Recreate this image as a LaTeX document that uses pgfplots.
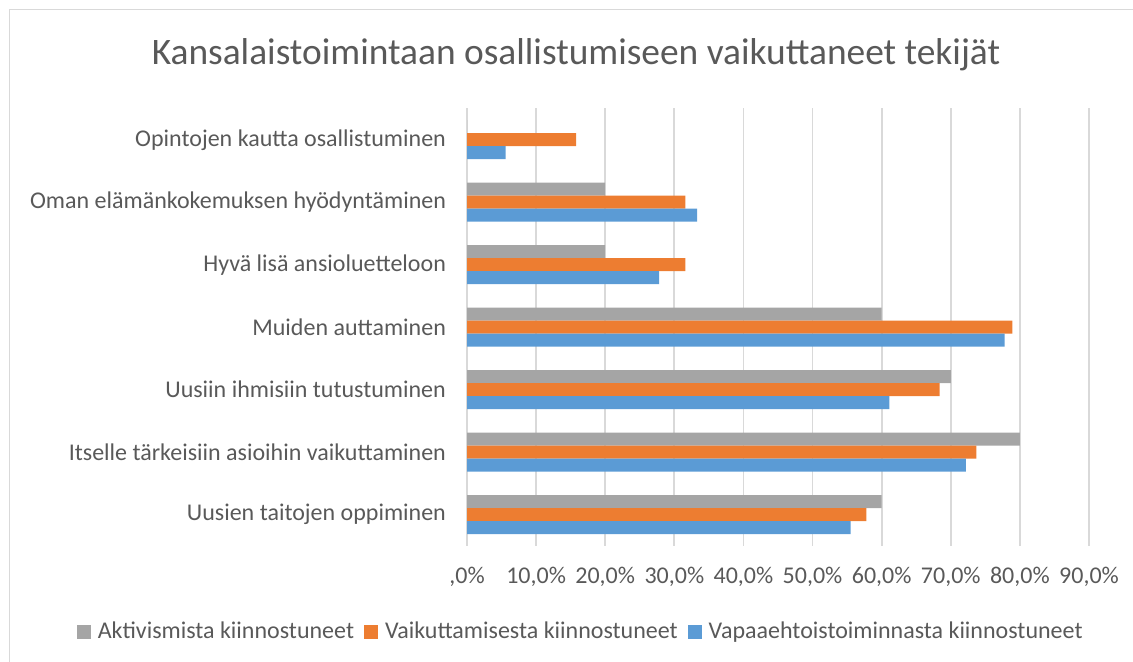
\documentclass[border=0pt]{standalone}
\usepackage{pgfplots}
\pgfplotsset{compat=1.18}
\usepackage{fontspec}
\setmainfont{Carlito}
\definecolor{cgray}{HTML}{A5A5A5}
\definecolor{corange}{HTML}{ED7D31}
\definecolor{cblue}{HTML}{5B9BD5}
\definecolor{cgrid}{HTML}{D9D9D9}
\definecolor{ctext}{HTML}{595959}
\begin{document}
\begin{tikzpicture}
\path[use as bounding box] (0pt,0pt) rectangle (566.5pt,331pt);
\draw[cgrid,line width=0.5pt] (4.5pt,-3pt) -- (4.5pt,326pt) -- (570pt,326pt);
\node[text=ctext,font=\fontsize{18.7}{22}\selectfont] at (288pt,303.5pt) {Kansalaistoimintaan osallistumiseen vaikuttaneet tekijät};
\begin{axis}[
  at={(233.5pt,58pt)}, anchor=south west,
  scale only axis,
  width=311pt, height=218.75pt,
  xmin=0, xmax=90,
  ymin=-0.5, ymax=6.5,
  xtick={0,10,...,90},
  xticklabels={{,0\%},{10,0\%},{20,0\%},{30,0\%},{40,0\%},{50,0\%},{60,0\%},{70,0\%},{80,0\%},{90,0\%}},
  ytick={0,...,6},
  yticklabels={Uusien taitojen oppiminen, Itselle tärkeisiin asioihin vaikuttaminen, Uusiin ihmisiin tutustuminen, Muiden auttaminen, Hyvä lisä ansioluetteloon, Oman elämänkokemuksen hyödyntäminen, Opintojen kautta osallistuminen},
  major tick length=0pt,
  xmajorgrids,
  grid style={cgrid,line width=0.9pt},
  axis line style={draw=none},
  tick label style={text=ctext,font=\fontsize{12}{14}\selectfont},
  xticklabel style={yshift=-7pt},
  yticklabel style={xshift=-7pt},
  xbar, bar width=6.5pt,
  legend style={at={(0.1845,0)}, anchor=center, yshift=-43pt, draw=none, fill=none,
    legend columns=3, font=\fontsize{12}{14}\selectfont, text=ctext,
    /tikz/every even column/.append style={column sep=3pt},
    /tikz/every odd column/.append style={column sep=1.5pt}},
  legend image code/.code={\fill[#1] (0pt,-3.5pt) rectangle (7pt,3.5pt);},
  clip=false,
]
\draw[cgrid,line width=0.9pt] (axis cs:0,-0.5) -- (axis cs:0,6.5);
\addplot[fill=cgray,draw=none,bar shift=6.5pt] coordinates {(60,0) (80,1) (70,2) (60,3) (20,4) (20,5) (0,6)};
\addplot[fill=corange,draw=none,bar shift=0pt] coordinates {(57.8,0) (73.7,1) (68.4,2) (78.9,3) (31.6,4) (31.6,5) (15.8,6)};
\addplot[fill=cblue,draw=none,bar shift=-6.5pt] coordinates {(55.5,0) (72.2,1) (61.1,2) (77.8,3) (27.8,4) (33.3,5) (5.6,6)};
\legend{Aktivismista kiinnostuneet, Vaikuttamisesta kiinnostuneet, Vapaaehtoistoiminnasta kiinnostuneet}
\end{axis}
\end{tikzpicture}
\end{document}
